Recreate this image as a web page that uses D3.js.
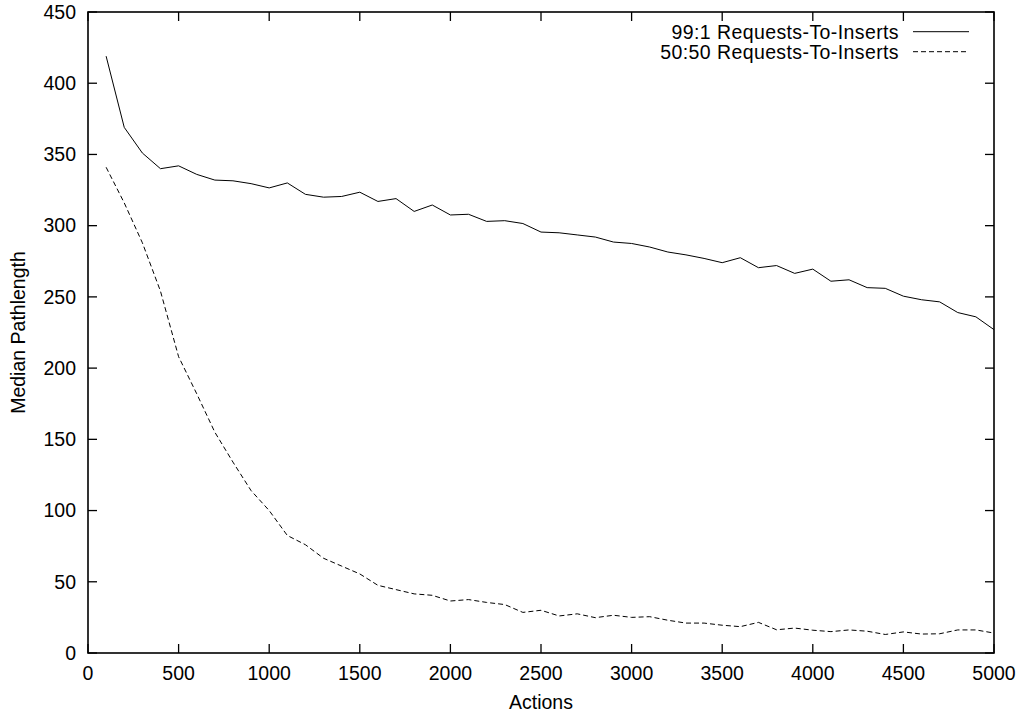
<!DOCTYPE html>
<html>
<head>
<meta charset="utf-8">
<script src="https://cdn.jsdelivr.net/npm/d3@7"></script>
<style>
  body { margin: 0; background: #fff; }
  svg text { font-family: "Liberation Sans", Arial, sans-serif; fill: #000; }
</style>
</head>
<body>
<svg id="chart" width="1018" height="713"></svg>
<script>
const actions = d3.range(100, 5001, 100);

const requests99 = [
  419, 369, 351, 340, 342, 336, 332, 331.5, 329.5, 326.5,
  330, 322, 320, 320.5, 323.5, 317, 319, 310, 314.5, 307.5,
  308, 303, 303.5, 301.5, 295.5, 295, 293.5, 292, 288.5, 287.5,
  285, 281.5, 279.5, 277, 274, 277.5, 270.5, 272, 266.5, 269.5,
  261, 262, 256.5, 256, 250.5, 248, 246.5, 239, 236, 227,
];

const requests50 = [
  341, 316, 288, 254, 208, 182, 155, 134, 114, 100,
  82.5, 76, 66.5, 61, 55.5, 47.5, 44.5, 41.5, 40.5, 36.5,
  37.5, 35.5, 34, 28.5, 30, 26, 27.5, 24.8, 26.5, 25,
  25.5, 23, 21, 21, 19.5, 18.5, 21.5, 16.3, 17.5, 16,
  15, 16.2, 15.3, 13, 14.8, 13.3, 13.5, 16.2, 16.2, 14,
];

const seriesNames = ["99:1 Requests-To-Inserts", "50:50 Requests-To-Inserts"];
const xTicks = d3.range(0, 5001, 500);
const yTicks = d3.range(0, 451, 50);

const svg = d3.select("#chart");
const margin = { left: 88, right: 24, top: 12, bottom: 60 };
const width = 1018, height = 713;

const x = d3.scaleLinear().domain([0, 5000]).range([margin.left, width - margin.right]);
const y = d3.scaleLinear().domain([0, 450]).range([height - margin.bottom, margin.top]);

const tickLen = 9;
const fontSize = 19.5;

// ticks, inward on all four sides
const tickG = svg.append("g").attr("stroke", "#000").attr("stroke-width", 1.3);
xTicks.forEach((t) => {
  tickG.append("line").attr("x1", x(t)).attr("x2", x(t))
    .attr("y1", y(0)).attr("y2", y(0) - tickLen);
  tickG.append("line").attr("x1", x(t)).attr("x2", x(t))
    .attr("y1", y(450)).attr("y2", y(450) + tickLen);
});
yTicks.forEach((t) => {
  tickG.append("line").attr("x1", x(0)).attr("x2", x(0) + tickLen)
    .attr("y1", y(t)).attr("y2", y(t));
  tickG.append("line").attr("x1", x(5000)).attr("x2", x(5000) - tickLen)
    .attr("y1", y(t)).attr("y2", y(t));
});

// tick labels
svg.append("g").selectAll("text").data(xTicks).join("text")
  .attr("x", (d) => x(d)).attr("y", y(0) + 27)
  .attr("text-anchor", "middle").attr("font-size", fontSize)
  .text((d) => d);
svg.append("g").selectAll("text").data(yTicks).join("text")
  .attr("x", x(0) - 12).attr("y", (d) => y(d)).attr("dy", "0.35em")
  .attr("text-anchor", "end").attr("font-size", fontSize)
  .text((d) => d);

// axis titles
svg.append("text").attr("x", (x(0) + x(5000)) / 2).attr("y", 709)
  .attr("text-anchor", "middle").attr("font-size", fontSize).text("Actions");
svg.append("text")
  .attr("transform", `translate(25,${(y(0) + y(450)) / 2}) rotate(-90)`)
  .attr("text-anchor", "middle").attr("font-size", fontSize).text("Median Pathlength");

// data lines
const line = d3.line().x((d) => x(d[0])).y((d) => y(d[1]));
const styles = [null, "5,3"];
[requests99, requests50].forEach((vals, i) => {
  svg.append("path")
    .datum(actions.map((a, j) => [a, vals[j]]))
    .attr("d", line)
    .attr("fill", "none").attr("stroke", "#000").attr("stroke-width", 1)
    .attr("stroke-dasharray", styles[i]);
});

// frame
svg.append("rect")
  .attr("x", x(0)).attr("y", y(450))
  .attr("width", x(5000) - x(0)).attr("height", y(0) - y(450))
  .attr("fill", "none").attr("stroke", "#000").attr("stroke-width", 1.6);

// legend
const legend = svg.append("g");
seriesNames.forEach((name, i) => {
  const ly = 31.7 + i * 20;
  legend.append("text").attr("x", 899).attr("y", ly).attr("dy", "0.35em")
    .attr("text-anchor", "end").attr("font-size", fontSize)
    .attr("letter-spacing", 0.4).text(name);
  legend.append("line").attr("x1", 913).attr("x2", 969)
    .attr("y1", ly).attr("y2", ly)
    .attr("stroke", "#000").attr("stroke-width", 1)
    .attr("stroke-dasharray", styles[i]);
});
</script>
</body>
</html>
